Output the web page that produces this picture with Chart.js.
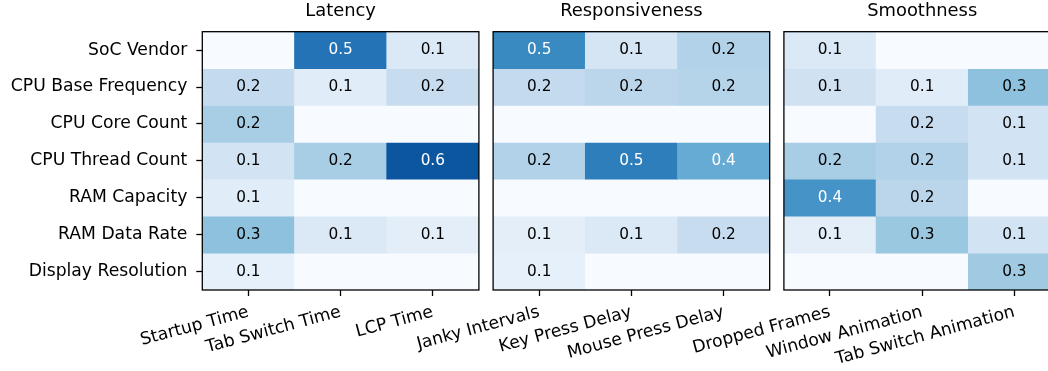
<!DOCTYPE html>
<html>
<head>
<meta charset="utf-8">
<script src="https://cdn.jsdelivr.net/npm/chart.js@4.4.1/dist/chart.umd.min.js"></script>
<style>
  html, body { margin: 0; padding: 0; background: #fff; overflow: hidden; }
  #wrap { position: relative; width: 1048px; height: 371px; overflow: hidden; background: #fff; }
  #wrap canvas { position: absolute; top: 0; }
</style>
</head>
<body>
<div id="wrap"></div>
<script>
// Hardware factors (rows) shared by every panel
const hardwareFactors = [
  'SoC Vendor', 'CPU Base Frequency', 'CPU Core Count', 'CPU Thread Count',
  'RAM Capacity', 'RAM Data Rate', 'Display Resolution'
];

// Metrics (columns) of each panel
const latencyMetrics = ['Startup Time', 'Tab Switch Time', 'LCP Time'];
const responsivenessMetrics = ['Janky Intervals', 'Key Press Delay', 'Mouse Press Delay'];
const smoothnessMetrics = ['Dropped Frames', 'Window Animation', 'Tab Switch Animation'];

// Importance scores, one row per hardware factor, one entry per metric
const latencyValues = [
  [0.00, 0.52, 0.10],
  [0.18, 0.08, 0.17],
  [0.24, 0.00, 0.00],
  [0.13, 0.24, 0.60],
  [0.08, 0.00, 0.00],
  [0.29, 0.10, 0.07],
  [0.06, 0.00, 0.00]
];
const responsivenessValues = [
  [0.46, 0.12, 0.22],
  [0.18, 0.20, 0.21],
  [0.00, 0.00, 0.00],
  [0.22, 0.49, 0.36],
  [0.00, 0.00, 0.00],
  [0.07, 0.10, 0.17],
  [0.06, 0.00, 0.00]
];
const smoothnessValues = [
  [0.10, 0.00, 0.00],
  [0.14, 0.08, 0.29],
  [0.00, 0.17, 0.13],
  [0.24, 0.22, 0.13],
  [0.43, 0.20, 0.00],
  [0.07, 0.27, 0.13],
  [0.00, 0.00, 0.26]
];

const panelTitles = ['Latency', 'Responsiveness', 'Smoothness'];

// ---- colour scale (sequential blues) ----
const BLUES = [
  [247, 251, 255], [222, 235, 247], [198, 219, 239], [158, 202, 225], [107, 174, 214],
  [66, 146, 198], [33, 113, 181], [8, 81, 156], [8, 48, 107]
];
const COLOR_MAX = 0.7;
function blues(v) {
  const t = Math.min(1, Math.max(0, v / COLOR_MAX));
  const p = t * (BLUES.length - 1);
  const i = Math.min(BLUES.length - 2, Math.floor(p));
  const f = p - i;
  const a = BLUES[i], b = BLUES[i + 1];
  const c = a.map((ch, n) => Math.round(ch + (b[n] - ch) * f));
  return `rgb(${c[0]},${c[1]},${c[2]})`;
}

const FONT = '"DejaVu Sans", "Liberation Sans", sans-serif';
const W = 1048, H = 371;
const PANEL_LEFT = [202.3, 493.1, 783.9];
const PANEL_W = 276.6;
const CANVAS_W = 487;
const XAXIS_H = 81;

// value annotations + panel frame
const cellLabels = {
  id: 'cellLabels',
  afterDatasetsDraw(chart) {
    const ctx = chart.ctx;
    ctx.save();
    ctx.font = `15.3px ${FONT}`;
    ctx.textAlign = 'center';
    ctx.textBaseline = 'middle';
    chart.data.datasets.forEach((ds, di) => {
      const meta = chart.getDatasetMeta(di);
      meta.data.forEach((bar, j) => {
        const v = ds.values[j];
        const txt = v.toFixed(1);
        if (Number(txt) === 0) return;
        const p = bar.getProps(['x', 'y', 'base'], true);
        ctx.fillStyle = v > 0.33 ? '#ffffff' : '#000000';
        ctx.fillText(txt, p.x, (p.y + p.base) / 2);
      });
    });
    const a = chart.chartArea;
    ctx.lineWidth = 1.3;
    ctx.strokeStyle = '#000';
    ctx.strokeRect(a.left, a.top, a.right - a.left, a.bottom - a.top);
    ctx.restore();
  }
};

function makePanel(k, metrics, values) {
  const wrap = document.getElementById('wrap');
  const canvas = document.createElement('canvas');
  const canvasLeft = k * 291;
  canvas.width = CANVAS_W;
  canvas.height = H;
  canvas.style.left = canvasLeft + 'px';
  canvas.style.width = CANVAS_W + 'px';
  canvas.style.height = H + 'px';
  wrap.appendChild(canvas);

  const axisW = PANEL_LEFT[k] - canvasLeft;
  const rightPad = CANVAS_W - axisW - PANEL_W;
  const showY = k === 0;

  const datasets = hardwareFactors.map((factor, r) => ({
    label: factor,
    data: metrics.map(() => [r, r + 1]),
    values: values[r],
    backgroundColor: values[r].map(blues),
    borderWidth: 0,
    grouped: false,
    barPercentage: 1,
    categoryPercentage: 1
  }));

  new Chart(canvas, {
    type: 'bar',
    data: { labels: metrics, datasets },
    options: {
      responsive: false,
      animation: false,
      events: [],
      layout: { padding: { left: 0, right: rightPad, top: 0.2, bottom: 0 } },
      plugins: {
        legend: { display: false },
        tooltip: { enabled: false },
        title: {
          display: true,
          text: panelTitles[k],
          fullSize: false,
          color: '#000',
          font: { family: FONT, size: 17.9, weight: 'normal' },
          padding: { top: 0, bottom: 10 }
        }
      },
      scales: {
        x: {
          type: 'category',
          offset: true,
          afterFit: s => { s.height = XAXIS_H; },
          ticks: {
            color: '#000',
            font: { family: FONT, size: 17.2 },
            minRotation: 15,
            maxRotation: 15,
            autoSkip: false,
            padding: 6
          },
          grid: {
            offset: false,
            drawOnChartArea: false,
            tickLength: 6,
            tickColor: '#000',
            tickWidth: 1.3
          },
          border: { display: false }
        },
        y: {
          type: 'linear',
          min: 0,
          max: hardwareFactors.length,
          reverse: true,
          afterBuildTicks: s => { s.ticks = hardwareFactors.map((_, i) => ({ value: i + 0.5 })); },
          afterFit: s => { s.width = axisW; },
          ticks: {
            display: showY,
            autoSkip: false,
            color: '#000',
            font: { family: FONT, size: 17.2 },
            padding: 9,
            callback: v => hardwareFactors[Math.floor(v)]
          },
          grid: {
            display: showY,
            drawOnChartArea: false,
            tickLength: 6,
            tickColor: '#000',
            tickWidth: 1.3
          },
          border: { display: false }
        }
      }
    },
    plugins: [cellLabels]
  });
}

makePanel(0, latencyMetrics, latencyValues);
makePanel(1, responsivenessMetrics, responsivenessValues);
makePanel(2, smoothnessMetrics, smoothnessValues);
</script>
</body>
</html>
